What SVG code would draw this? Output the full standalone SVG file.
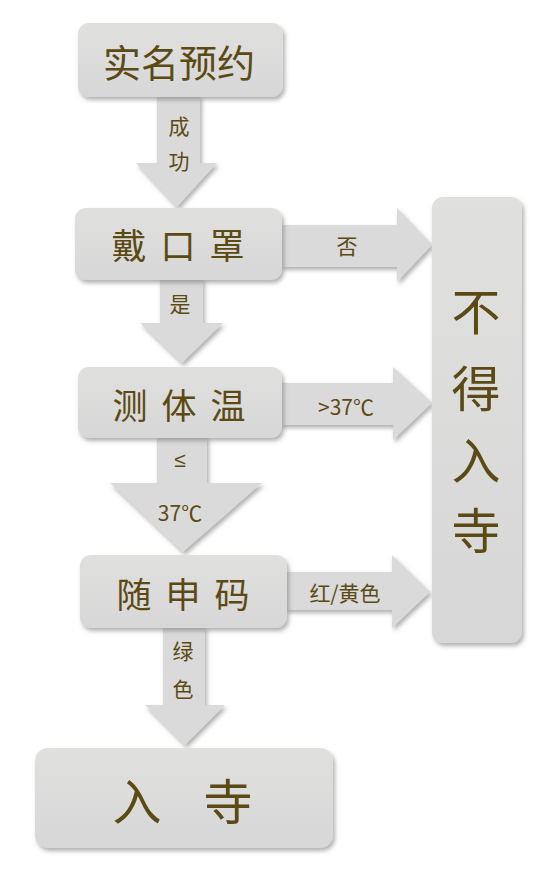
<svg xmlns="http://www.w3.org/2000/svg" width="550" height="880" viewBox="0 0 550 880">
<defs>
<linearGradient id="g" x1="0" y1="0" x2="0" y2="1">
<stop offset="0" stop-color="#e0e0df"/>
<stop offset="1" stop-color="#d7d7d7"/>
</linearGradient>
<filter id="sh" x="-10%" y="-10%" width="130%" height="130%">
<feDropShadow dx="2" dy="3" stdDeviation="2" flood-color="#707070" flood-opacity="0.55"/>
</filter>
</defs>
<style>
.box{fill:url(#g);filter:url(#sh);}
.arr{fill:#dadada;filter:url(#sh);}
text{font-family:"Noto Sans CJK SC","Noto Sans",sans-serif;fill:#5b4a14;text-anchor:middle;dominant-baseline:central;}
.big{font-size:35px;}
.lbl{font-size:21px;}
.huge{font-size:49px;}
</style>
<rect width="550" height="880" fill="#ffffff"/>
<g id="connectors">
<polygon class="arr" points="157,95 200,95 200,163 217,163 177,207 136,163 157,163"/>
<polygon class="arr" points="280,225 397,225 397,208 432,245 397,282 397,267 280,267"/>
<polygon class="arr" points="160,278 203,278 203,323 223,323 182,363 140,323 160,323"/>
<polygon class="arr" points="280,383 393,383 393,367 432,403 393,440 393,425 280,425"/>
<polygon class="arr" points="157,436 207,436 207,483 262,483 183,552 110,483 157,483"/>
<polygon class="arr" points="285,572 392,572 392,555 430,592 392,628 392,610 285,610"/>
<polygon class="arr" points="163,626 205,626 205,705 225,705 185,745 145,705 163,705"/>
<text class="lbl" x="179" y="125">成</text>
<text class="lbl" x="179" y="160">功</text>
<text class="lbl" x="347" y="245">否</text>
<text class="lbl" x="180" y="303">是</text>
<text class="lbl" x="346" y="406">&gt;37℃</text>
<text class="lbl" x="180" y="459" style="font-family:'Liberation Sans',sans-serif">≤</text>
<text class="lbl" x="180" y="512">37℃</text>
<text class="lbl" x="345" y="592">红/黄色</text>
<text class="lbl" x="183" y="650">绿</text>
<text class="lbl" x="183" y="688">色</text>
</g>
<g id="n1">
<rect class="box" x="78" y="23" width="205" height="74" rx="11"/>
<text x="179" y="60" style="font-size:38px">实名预约</text>
</g>
<g id="n2">
<rect class="box" x="75" y="208" width="207" height="72" rx="11"/>
<text class="big" x="185" y="243" letter-spacing="14">戴口罩</text>
</g>
<g id="n3">
<rect class="box" x="78" y="367" width="204" height="71" rx="11"/>
<text class="big" x="186" y="403" letter-spacing="14">测体温</text>
</g>
<g id="n4">
<rect class="box" x="80" y="555" width="207" height="73" rx="11"/>
<text class="big" x="190" y="592" letter-spacing="14">随申码</text>
</g>
<g id="n5">
<rect class="box" x="35" y="748" width="298" height="100" rx="13"/>
<text class="huge" x="137" y="798">入</text>
<text class="huge" x="228" y="798">寺</text>
</g>
<g id="n6">
<rect class="box" x="432" y="197" width="90" height="446" rx="11"/>
<text class="huge" x="476" y="308">不</text>
<text class="huge" x="476" y="385">得</text>
<text class="huge" x="476" y="457">入</text>
<text class="huge" x="476" y="527">寺</text>
</g>
</svg>
